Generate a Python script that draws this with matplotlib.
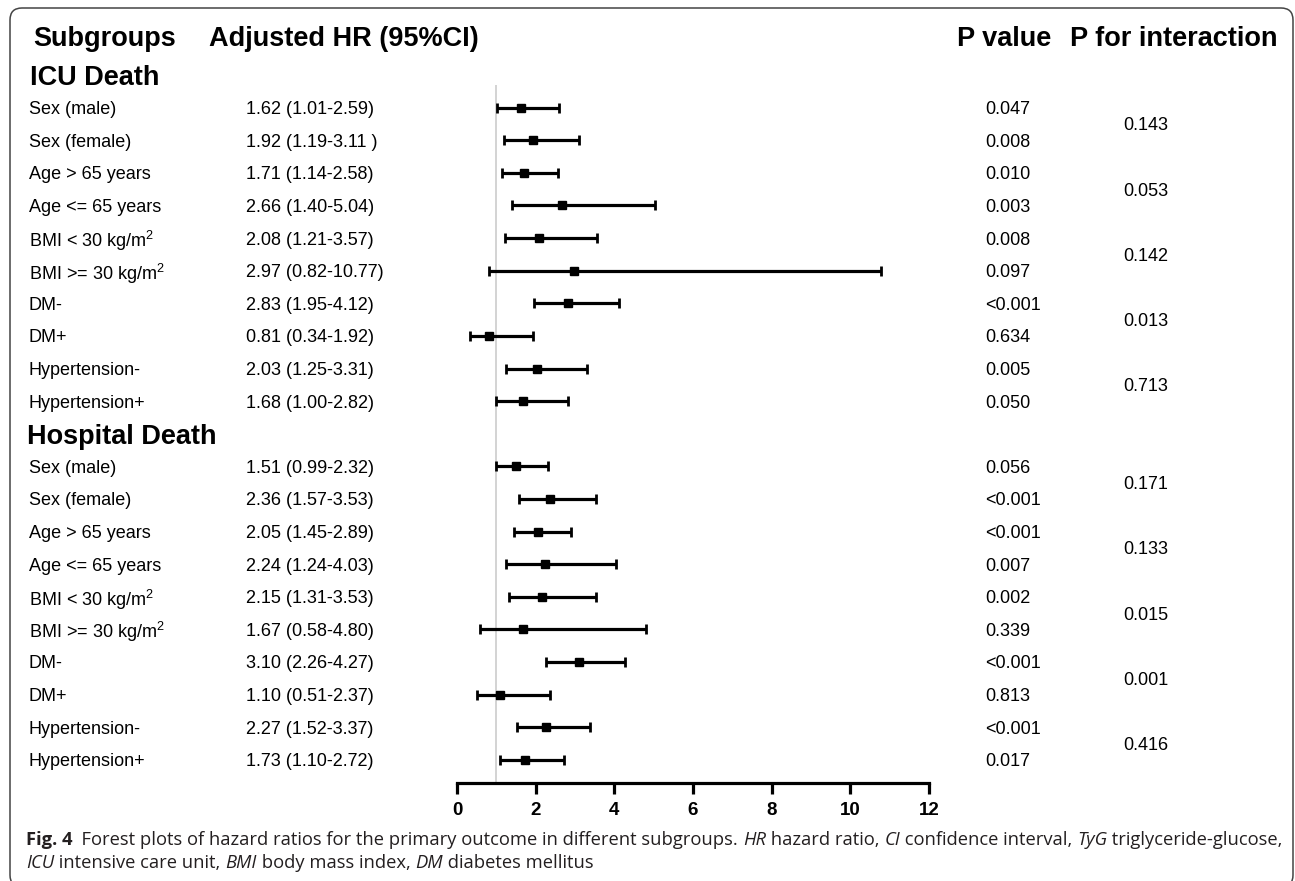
import numpy as np
import matplotlib
matplotlib.use("Agg")
import matplotlib.pyplot as plt
from matplotlib.patches import FancyBboxPatch
from matplotlib.transforms import IdentityTransform, blended_transform_factory

W, H = 1295, 881

plt.rcParams['font.family'] = ['Liberation Sans', 'DejaVu Sans']
plt.rcParams['mathtext.fontset'] = 'custom'
plt.rcParams['mathtext.rm'] = 'Liberation Sans'
plt.rcParams['mathtext.it'] = 'Liberation Sans:italic'

# subgroup labels (same for both outcomes)
subgroups = ["Sex (male)", "Sex (female)", "Age > 65 years", "Age <= 65 years",
             "BMI < 30 kg/m$^2$", "BMI >= 30 kg/m$^2$", "DM-", "DM+",
             "Hypertension-", "Hypertension+"]

# ICU death
icu_hr = np.array([1.62, 1.92, 1.71, 2.66, 2.08, 2.97, 2.83, 0.81, 2.03, 1.68])
icu_lo = np.array([1.01, 1.19, 1.14, 1.40, 1.21, 0.82, 1.95, 0.34, 1.25, 1.00])
icu_hi = np.array([2.59, 3.11, 2.58, 5.04, 3.57, 10.77, 4.12, 1.92, 3.31, 2.82])
icu_text = ["1.62 (1.01-2.59)", "1.92 (1.19-3.11 )", "1.71 (1.14-2.58)", "2.66 (1.40-5.04)",
            "2.08 (1.21-3.57)", "2.97 (0.82-10.77)", "2.83 (1.95-4.12)", "0.81 (0.34-1.92)",
            "2.03 (1.25-3.31)", "1.68 (1.00-2.82)"]
icu_p = ["0.047", "0.008", "0.010", "0.003", "0.008", "0.097", "<0.001", "0.634", "0.005", "0.050"]
icu_pint = ["0.143", "0.053", "0.142", "0.013", "0.713"]

# Hospital death
hosp_hr = np.array([1.51, 2.36, 2.05, 2.24, 2.15, 1.67, 3.10, 1.10, 2.27, 1.73])
hosp_lo = np.array([0.99, 1.57, 1.45, 1.24, 1.31, 0.58, 2.26, 0.51, 1.52, 1.10])
hosp_hi = np.array([2.32, 3.53, 2.89, 4.03, 3.53, 4.80, 4.27, 2.37, 3.37, 2.72])
hosp_text = ["1.51 (0.99-2.32)", "2.36 (1.57-3.53)", "2.05 (1.45-2.89)", "2.24 (1.24-4.03)",
             "2.15 (1.31-3.53)", "1.67 (0.58-4.80)", "3.10 (2.26-4.27)", "1.10 (0.51-2.37)",
             "2.27 (1.52-3.37)", "1.73 (1.10-2.72)"]
hosp_p = ["0.056", "<0.001", "<0.001", "0.007", "0.002", "0.339", "<0.001", "0.813", "<0.001", "0.017"]
hosp_pint = ["0.171", "0.133", "0.015", "0.001", "0.416"]

x_ticks = [0, 2, 4, 6, 8, 10, 12]


def fx(px):
    return px / W


def fy(py):
    return 1 - py / H


fig = plt.figure(figsize=(W / 100, H / 100), dpi=100)
fig.patch.set_facecolor('white')

# row grid in pixels: first row centre and spacing
ROW0, ROWH = 107.7, 32.6
AX_TOP, AX_BOT = 85, 783
ax = fig.add_axes([fx(457), fy(AX_BOT), (929 - 457) / W, (AX_BOT - AX_TOP) / H])
ax.set_xlim(0, 12)
ax.set_ylim((AX_BOT - ROW0) / ROWH, (AX_TOP - ROW0) / ROWH)
ax.patch.set_alpha(0)

icu_y = np.arange(10)
hosp_y = np.arange(11, 21)

ax.axvline(1, color='#c8c8c8', lw=1.1, zorder=0)
for hr, lo, hi, yy in [(icu_hr, icu_lo, icu_hi, icu_y), (hosp_hr, hosp_lo, hosp_hi, hosp_y)]:
    ax.errorbar(hr, yy, xerr=[hr - lo, hi - hr], fmt='s', color='black', ms=5.8,
                elinewidth=2.3, capsize=3.3, capthick=2.0)

for s in ['left', 'right', 'top']:
    ax.spines[s].set_visible(False)
ax.spines['bottom'].set_linewidth(2.3)
ax.set_yticks([])
ax.set_xticks(x_ticks)
ax.tick_params(axis='x', direction='out', length=8, width=2.3, pad=6)
for lab in ax.get_xticklabels():
    lab.set_fontfamily(['Liberation Sans Narrow', 'Liberation Sans'])
    lab.set_fontweight('bold')
    lab.set_fontsize(13.5)

# text columns
tr = blended_transform_factory(fig.transFigure, ax.transData)
ROW_FS = 13
HEAD_FS = 19.5

for labels, yy, hrt, pv, pint in [(subgroups, icu_y, icu_text, icu_p, icu_pint),
                                  (subgroups, hosp_y, hosp_text, hosp_p, hosp_pint)]:
    for i in range(len(labels)):
        ax.text(fx(29), yy[i], labels[i], transform=tr, fontsize=ROW_FS, va='center_baseline')
        ax.text(fx(246), yy[i], hrt[i], transform=tr, fontsize=ROW_FS, va='center_baseline')
        ax.text(fx(985), yy[i], pv[i], transform=tr, fontsize=ROW_FS, va='center_baseline')
    for j in range(len(pint)):
        ax.text(fx(1123), yy[2 * j] + 0.5, pint[j], transform=tr, fontsize=ROW_FS,
                va='center_baseline')

ax.text(fx(30), -1, "ICU Death", transform=tr, fontsize=HEAD_FS, fontweight='bold',
        va='center_baseline')
ax.text(fx(27), 10, "Hospital Death", transform=tr, fontsize=HEAD_FS, fontweight='bold',
        va='center_baseline')

for x, t in [(33, "Subgroups"), (209, "Adjusted HR (95%CI)"), (957, "P value"),
             (1070, "P for interaction")]:
    fig.text(fx(x), fy(46), t, fontsize=HEAD_FS, fontweight='bold', va='baseline')

# border around the figure
border = FancyBboxPatch((10, -6), 1283, 873 + 6, boxstyle="round,pad=0,rounding_size=12",
                        transform=IdentityTransform(), facecolor='none', edgecolor='#444444',
                        lw=1.1)
fig.patches.append(border)

# caption, drawn run by run so italics sit inline
CAP_FONT = ['Open Sans', 'DejaVu Sans']
CAP_COL = '#231f20'
line1 = [("Fig. 4", 'bold', 'normal'),
         ("  Forest plots of hazard ratios for the primary outcome in different subgroups. ", 'normal', 'normal'),
         ("HR", 'normal', 'italic'), (" hazard ratio, ", 'normal', 'normal'),
         ("CI", 'normal', 'italic'), (" confidence interval, ", 'normal', 'normal'),
         ("TyG", 'normal', 'italic'), (" triglyceride-glucose,", 'normal', 'normal')]
line2 = [("ICU", 'normal', 'italic'), (" intensive care unit, ", 'normal', 'normal'),
         ("BMI", 'normal', 'italic'), (" body mass index, ", 'normal', 'normal'),
         ("DM", 'normal', 'italic'), (" diabetes mellitus", 'normal', 'normal')]

renderer = fig.canvas.get_renderer()


def draw_runs(runs, x0, y0, size):
    x = x0
    for txt, wt, st in runs:
        t = fig.text(fx(x), fy(y0), txt, fontsize=size, family=CAP_FONT, fontweight=wt,
                     fontstyle=st, color=CAP_COL, va='center_baseline')
        x += t.get_window_extent(renderer).width
    return x - x0


# pick a size so line 1 spans about the same width as the reference
probe = []
total = 0
for txt, wt, st in line1:
    t = fig.text(0, 0, txt, fontsize=12, family=CAP_FONT, fontweight=wt, fontstyle=st)
    total += t.get_window_extent(renderer).width
    probe.append(t)
for t in probe:
    t.remove()
cap_fs = 12 * 1248 / total

draw_runs(line1, 26, 838, cap_fs)
draw_runs(line2, 26, 861, cap_fs)

fig.savefig("out.png", dpi=100, facecolor='white')
